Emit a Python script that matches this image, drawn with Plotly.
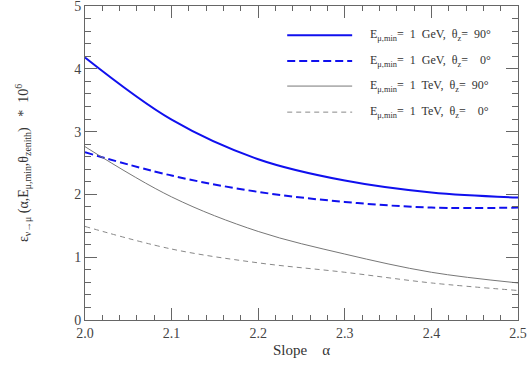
import plotly.graph_objects as go

alpha = [2.0, 2.1, 2.2, 2.3, 2.4, 2.5]
gev_90 = [4.18, 3.19, 2.56, 2.22, 2.03, 1.95]
gev_0 = [2.67, 2.30, 2.04, 1.88, 1.79, 1.79]
tev_90 = [2.76, 1.96, 1.41, 1.05, 0.76, 0.59]
tev_0 = [1.49, 1.13, 0.91, 0.76, 0.59, 0.47]

labels = [
    "E<sub>μ,min</sub>=  1  GeV,  θ<sub>z</sub>=  90°",
    "E<sub>μ,min</sub>=  1  GeV,  θ<sub>z</sub>=    0°",
    "E<sub>μ,min</sub>=  1  TeV,  θ<sub>z</sub>=  90°",
    "E<sub>μ,min</sub>=  1  TeV,  θ<sub>z</sub>=    0°",
]
series = [gev_90, gev_0, tev_90, tev_0]
styles = [
    dict(color="#1010ee", width=2, dash="solid"),
    dict(color="#1010ee", width=2, dash="8px,4px"),
    dict(color="#777777", width=1, dash="solid"),
    dict(color="#888888", width=1, dash="5px,4px"),
]

FONT = "Liberation Serif"
fig = go.Figure()
for ys, st in zip(series, styles):
    fig.add_trace(go.Scatter(x=alpha, y=ys, mode="lines",
                             line=dict(shape="spline", smoothing=1.0, **st),
                             showlegend=False, hoverinfo="skip"))

# custom legend (paper coords)
leg_y = [0.907, 0.825, 0.745, 0.662]
for yy, st, lab in zip(leg_y, styles, labels):
    fig.add_shape(type="line", xref="paper", yref="paper",
                  x0=0.467, x1=0.617, y0=yy, y1=yy, line=st)
    fig.add_annotation(xref="paper", yref="paper", x=0.653, y=yy,
                       text=lab, showarrow=False, xanchor="left", yanchor="middle",
                       font=dict(family=FONT, size=12, color="#333333"))

axis_common = dict(showline=True, linecolor="#666666", linewidth=1, mirror="ticks",
                   ticks="inside", tickcolor="#666666", showgrid=False, zeroline=False,
                   automargin=False, ticklabeloverflow="allow",
                   tickfont=dict(family=FONT, size=14, color="#444444"))
fig.update_xaxes(range=[2.0, 2.5], tick0=2.0, dtick=0.1, ticklen=12, tickformat=".1f",
                 minor=dict(dtick=0.02, ticklen=5, ticks="inside", tickcolor="#666666"),
                 title=dict(text="Slope    α", font=dict(family=FONT, size=15, color="#333333"),
                            standoff=4),
                 **axis_common)
fig.update_yaxes(range=[0, 5], tick0=0, dtick=1, ticklen=12,
                 minor=dict(dtick=0.2, ticklen=6, ticks="inside", tickcolor="#666666"),
                 title=dict(text="ε<sub>ν→μ</sub> (α,E<sub>μ,min</sub>,θ<sub>zenith</sub>)   *  10<sup>6</sup>",
                            font=dict(family=FONT, size=14, color="#333333"), standoff=42),
                 **axis_common)
fig.update_layout(width=530, height=368, margin=dict(l=85, r=12, t=6, b=48),
                  paper_bgcolor="white", plot_bgcolor="white")
fig.write_html("out.html", config={"displayModeBar": False},
               post_script="document.body.style.margin='0';document.body.style.overflow='hidden';")
